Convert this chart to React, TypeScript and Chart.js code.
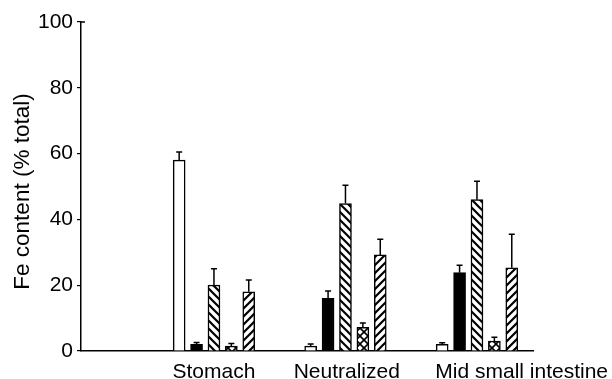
import React, { useEffect, useRef } from "react";
import { Chart, registerables } from "chart.js";

Chart.register(...registerables);

const categories = ["Stomach", "Neutralized", "Mid small intestine"];
const categoryLabelPositions = [0, 1.01, 2.34];
const openValues = [58, 1.5, 2];
const openErrors = [2.5, 0.6, 0.5];
const solidValues = [2, 16, 23.8];
const solidErrors = [0.6, 2.2, 2.3];
const backHatchValues = [20, 44.8, 46];
const backHatchErrors = [5, 5.6, 5.6];
const crossHatchValues = [1.5, 7.2, 3];
const crossHatchErrors = [0.8, 1.3, 1.2];
const forwardHatchValues = [18, 29.2, 25.3];
const forwardHatchErrors = [3.6, 4.8, 10.2];
const yTicks = [0, 20, 40, 60, 80, 100];
const yTitle = "Fe content (% total)";

const FONT = "Liberation Sans";

function makePattern(kind: string): CanvasPattern | string {
  const size = 8;
  const c = document.createElement("canvas");
  c.width = size;
  c.height = size;
  const g = c.getContext("2d")!;
  g.fillStyle = "#fff";
  g.fillRect(0, 0, size, size);
  g.strokeStyle = "#000";
  g.lineWidth = 2.2;
  g.lineCap = "square";
  const back = () => {
    g.beginPath();
    g.moveTo(-2, -2);
    g.lineTo(size + 2, size + 2);
    g.moveTo(-2, size - 2);
    g.lineTo(2, size + 2);
    g.moveTo(size - 2, -2);
    g.lineTo(size + 2, 2);
    g.stroke();
  };
  const fwd = () => {
    g.beginPath();
    g.moveTo(-2, size + 2);
    g.lineTo(size + 2, -2);
    g.moveTo(-2, 2);
    g.lineTo(2, -2);
    g.moveTo(size - 2, size + 2);
    g.lineTo(size + 2, size - 2);
    g.stroke();
  };
  if (kind === "back") back();
  if (kind === "fwd") fwd();
  if (kind === "cross") {
    g.lineWidth = 1.6;
    back();
    fwd();
  }
  const p = g.createPattern(c, "repeat");
  return p || "#888";
}

export default function App() {
  const ref = useRef<HTMLCanvasElement | null>(null);

  useEffect(() => {
    if (!ref.current) return;
    const series = [
      { values: openValues, errors: openErrors, fill: "#fff" as any },
      { values: solidValues, errors: solidErrors, fill: "#000" as any },
      { values: backHatchValues, errors: backHatchErrors, fill: makePattern("back") },
      { values: crossHatchValues, errors: crossHatchErrors, fill: makePattern("cross") },
      { values: forwardHatchValues, errors: forwardHatchErrors, fill: makePattern("fwd") },
    ];
    const slot = 0.1323; // spacing between bars within a group, in category units
    const mid = (series.length - 1) / 2;

    const extras = {
      id: "extras",
      afterDatasetsDraw(chart: any) {
        const ctx = chart.ctx;
        const yScale = chart.scales.y;
        ctx.save();
        ctx.strokeStyle = "#000";
        ctx.lineWidth = 1.5;
        series.forEach((s, di) => {
          const meta = chart.getDatasetMeta(di);
          meta.data.forEach((bar: any, i: number) => {
            const top = yScale.getPixelForValue(s.values[i] + s.errors[i]);
            const x = bar.x;
            ctx.beginPath();
            ctx.moveTo(x, bar.y);
            ctx.lineTo(x, top);
            ctx.moveTo(x - 3, top);
            ctx.lineTo(x + 3, top);
            ctx.stroke();
          });
        });
        // small inward tick at the top of the y axis
        const yTop = yScale.getPixelForValue(yTicks[yTicks.length - 1]);
        ctx.beginPath();
        ctx.moveTo(chart.chartArea.left, yTop);
        ctx.lineTo(chart.chartArea.left + 4, yTop);
        ctx.stroke();
        // y-axis title
        ctx.fillStyle = "#000";
        ctx.font = `22.5px "${FONT}"`;
        ctx.textAlign = "center";
        ctx.textBaseline = "middle";
        ctx.translate(22.5, (chart.chartArea.top + chart.chartArea.bottom) / 2 + 5);
        ctx.rotate(-Math.PI / 2);
        ctx.fillText(yTitle, 0, 0);
        ctx.restore();
      },
    };

    const chart = new Chart(ref.current, {
      type: "bar",
      data: {
        datasets: series.map((s, d) => ({
          data: s.values.map((v, i) => ({ x: i + (d - mid) * slot, y: v })),
          backgroundColor: s.fill,
          borderColor: "#000",
          borderWidth: 1.5,
          grouped: false,
          barThickness: 12,
        })),
      },
      options: {
        responsive: false,
        animation: false,
        layout: { padding: { left: 0, right: 79, top: 22, bottom: 0 } },
        plugins: {
          legend: { display: false },
          tooltip: { enabled: false },
        },
        scales: {
          x: {
            type: "linear",
            offset: false,
            min: -1.011,
            max: 2.426,
            grid: { display: false },
            border: { display: true, color: "#000", width: 1.5 },
            afterBuildTicks: (scale: any) => {
              scale.ticks = categoryLabelPositions.map((v) => ({ value: v }));
            },
            afterFit: (scale: any) => {
              scale.height = 28;
            },
            ticks: {
              autoSkip: false,
              maxRotation: 0,
              padding: 1,
              color: "#000",
              font: { family: FONT, size: 21 },
              callback: (v: any) => {
                const idx = categoryLabelPositions.findIndex((p) => Math.abs(p - Number(v)) < 1e-6);
                return idx >= 0 ? categories[idx] : "";
              },
            },
          },
          y: {
            min: 0,
            max: 100,
            afterBuildTicks: (scale: any) => {
              scale.ticks = yTicks.map((v) => ({ value: v }));
            },
            afterFit: (scale: any) => {
              scale.width = 81;
            },
            grid: {
              display: true,
              drawOnChartArea: false,
              drawTicks: true,
              tickLength: 4,
              color: "#000",
              lineWidth: 1.2,
            },
            border: { display: true, color: "#000", width: 1.5 },
            ticks: {
              padding: 4,
              color: "#000",
              font: { family: FONT, size: 21 },
            },
            title: { display: false },
          },
        },
      },
      plugins: [extras],
    });
    return () => chart.destroy();
  }, []);

  return (
    <div style={{ position: "fixed", left: 0, top: 0, width: 612, height: 379, background: "#fff" }}>
      <canvas ref={ref} width={612} height={379} style={{ display: "block" }} />
    </div>
  );
}
